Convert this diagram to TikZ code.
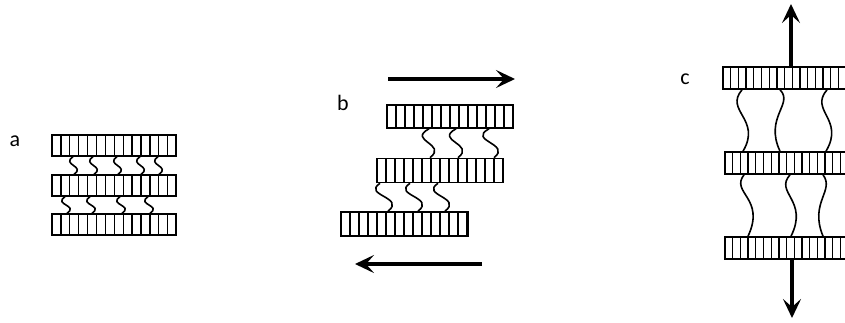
\documentclass[tikz,border=0pt]{standalone}
\usepackage{fontspec}
\setmainfont{Carlito}
\usetikzlibrary{arrows.meta}

\begin{document}
\begin{tikzpicture}[
    x=1pt, y=-1pt,
    ladder/.style={rectangle, draw, line width=1.6pt, inner sep=0pt,
        minimum height=21pt,
        path picture={\foreach \k in {1,...,20}
            \draw[line width=1.3pt] ([xshift=\k*#1]path picture bounding box.south west)
                -- ([xshift=\k*#1]path picture bounding box.north west);}},
    ladder/.default=8.9pt,
    chain/.style={line width=1.6pt},
    push/.style={line width=3.5pt, -{Stealth[length=19pt, width=18pt, inset=8pt]}},
    tag/.style={font=\fontsize{22}{26}\selectfont, inner sep=0pt}
]
\useasboundingbox (0,0) rectangle (845,322);

% a: stacked layers at rest
\node[tag] (la) at (15,141) {a};
\node[ladder, minimum width=124pt] (a1) at (114,145.5) {};
\node[ladder, minimum width=124pt] (a2) at (114,185.5) {};
\node[ladder, minimum width=124pt] (a3) at (114,224.5) {};
\foreach \t/\b in {73/74, 93/94, 117/118, 140/141, 158/159}
    \draw[chain] (\t,0 |- a1.south) .. controls +(-12,8) and +(12,-8) .. (\b,0 |- a2.north);
\foreach \t/\b in {65/67, 90/92, 120/122, 148/150}
    \draw[chain] (\t,0 |- a2.south) .. controls +(-12,8) and +(12,-8) .. (\b,0 |- a3.north);

% b: shear
\node[tag] (lb) at (343,103) {b};
\node[ladder=9pt, minimum width=126pt, minimum height=23pt] (b1) at (450,116.5) {};
\node[ladder=9pt, minimum width=126pt, minimum height=24pt] (b2) at (440,170.5) {};
\node[ladder=9pt, minimum width=127pt, minimum height=24pt] (b3) at (404.5,224) {};
\foreach \t/\b in {429/430, 456/458, 489/494}
    \draw[chain] (\t,0 |- b1.south) .. controls +(-22,12) and +(18,-14) .. (\b,0 |- b2.north);
\foreach \t/\b in {380/388, 410/418, 438/445}
    \draw[chain] (\t,0 |- b2.south) .. controls +(-18,12) and +(18,-14) .. (\b,0 |- b3.north);
\coordinate (rtail) at (388,79);
\coordinate (rhead) at (515,79);
\coordinate (ltail) at (482,264);
\coordinate (lhead) at (355,264);
\draw[push] (rtail) -- (rhead);
\draw[push] (ltail) -- (lhead);

% c: tension
\node[tag] (lc) at (685,79) {c};
\node[ladder=7.7pt, minimum width=140pt, minimum height=22pt] (c1) at (793,78) {};
\node[ladder=7.7pt, minimum width=140pt, minimum height=22pt] (c2) at (795,163) {};
\node[ladder=7.7pt, minimum width=140pt, minimum height=22pt] (c3) at (795,248) {};
\draw[chain] (742,0 |- c1.south) .. controls +(-18,21) and +(19,-32) .. (743,0 |- c2.north);
\draw[chain] (780,0 |- c1.south) .. controls +(14,14) and +(-16,-34) .. (780,0 |- c2.north);
\draw[chain] (827,0 |- c1.south) .. controls +(-18,21) and +(19,-32) .. (826,0 |- c2.north);
\draw[chain] (744,0 |- c2.south) .. controls +(-14,18) and +(18,-38) .. (748,0 |- c3.north);
\draw[chain] (790,0 |- c2.south) .. controls +(-16,18) and +(18,-36) .. (791,0 |- c3.north);
\draw[chain] (823,0 |- c2.south) .. controls +(12,16) and +(-14,-34) .. (823,0 |- c3.north);
\coordinate (uhead) at (791,4);
\coordinate (dhead) at (792,318);
\draw[push] (791,0 |- c1.north) -- (uhead);
\draw[push] (792,0 |- c3.south) -- (dhead);

\end{tikzpicture}
\end{document}
